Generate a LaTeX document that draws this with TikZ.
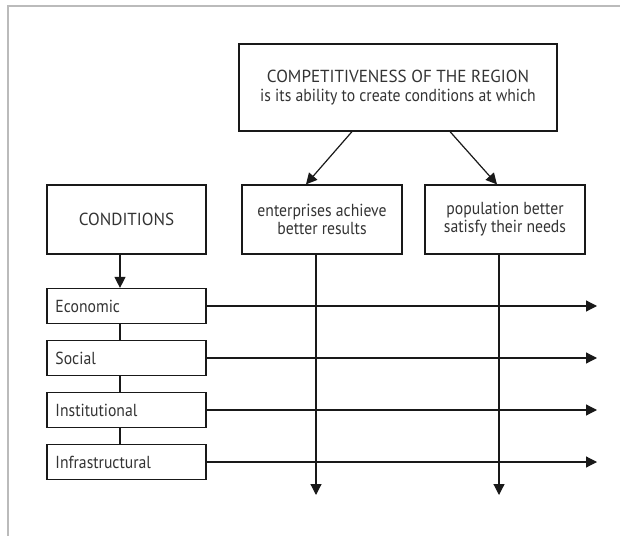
\documentclass[tikz,border=0pt]{standalone}
\usepackage{fontspec}
\setmainfont{PT Sans}[FakeStretch=0.9]
\newfontfamily\capsfont{PT Sans}[FakeStretch=0.98]
\usetikzlibrary{arrows.meta,calc}
\definecolor{txt}{HTML}{333333}
\definecolor{frame}{HTML}{BBBBBB}
\tikzset{
  box/.style={draw=black!90, line width=1.2bp, text=txt, inner sep=0pt, align=center, font=\fontsize{17.5}{18}\selectfont},
  small/.style={box, minimum width=159bp, minimum height=35bp, text width=142bp, align=left},
  conn/.style={line width=1.2bp, black!90},
  arr/.style={conn, -{Triangle[length=11bp,width=11bp]}}
}
\begin{document}
\begin{tikzpicture}[x=1bp,y=-1bp]
\useasboundingbox (0,0) rectangle (620,536);
\draw[frame, line width=1.5bp] (8,536) -- (8,6) -- (620,6);
\node[box, minimum width=318bp, minimum height=87bp, font=\fontsize{17.5}{19}\selectfont] (top) at (398,87.5) {\capsfont COMPETITIVENESS OF THE REGION\\is its ability to create conditions at which};
\node[box, minimum width=159bp, minimum height=69bp] (cond) at (126.5,219.5) {\capsfont CONDITIONS};
\node[box, minimum width=160bp, minimum height=69bp] (ent) at (322,219.5) {enterprises achieve\\better results};
\node[box, minimum width=160bp, minimum height=69bp] (pop) at (505,219.5) {population better\\satisfy their needs};
\node[small] (econ) at (126.5,306) {Economic};
\node[small] (soc) at (126.5,358) {Social};
\node[small] (inst) at (126.5,410) {Institutional};
\node[small] (infra) at (126.5,462) {Infrastructural};
% coordinates
\coordinate (t1) at ($(top.south)+(-46,0)$);
\coordinate (t2) at ($(top.south)+(52,0)$);
\coordinate (e1) at ($(ent.north)+(-16,0)$);
\coordinate (p1) at ($(pop.north)+(-8,0)$);
\coordinate (es) at ($(ent.south)+(-6,0)$);
\coordinate (ps) at ($(pop.south)+(-6,0)$);
\coordinate (ee) at (es |- 0,495);
\coordinate (pe) at (ps |- 0,495);
\coordinate (cs) at ($(cond.south)+(-6.5,0)$);
\coordinate (ec) at (cs |- econ.north);
\coordinate (ec2) at (cs |- econ.south);
\coordinate (sc1) at (cs |- soc.north);
\coordinate (sc2) at (cs |- soc.south);
\coordinate (ic1) at (cs |- inst.north);
\coordinate (ic2) at (cs |- inst.south);
\coordinate (fc1) at (cs |- infra.north);
\coordinate (xe) at (597,0);
\draw[arr] (t1) -- (e1);
\draw[arr] (t2) -- (p1);
\draw[arr] (cs) -- (ec);
\draw[conn] (ec2) -- (sc1);
\draw[conn] (sc2) -- (ic1);
\draw[conn] (ic2) -- (fc1);
\draw[arr] (econ.east) -- (xe |- econ.east);
\draw[arr] (soc.east) -- (xe |- soc.east);
\draw[arr] (inst.east) -- (xe |- inst.east);
\draw[arr] (infra.east) -- (xe |- infra.east);
\draw[arr] (es) -- (ee);
\draw[arr] (ps) -- (pe);
\end{tikzpicture}
\end{document}
